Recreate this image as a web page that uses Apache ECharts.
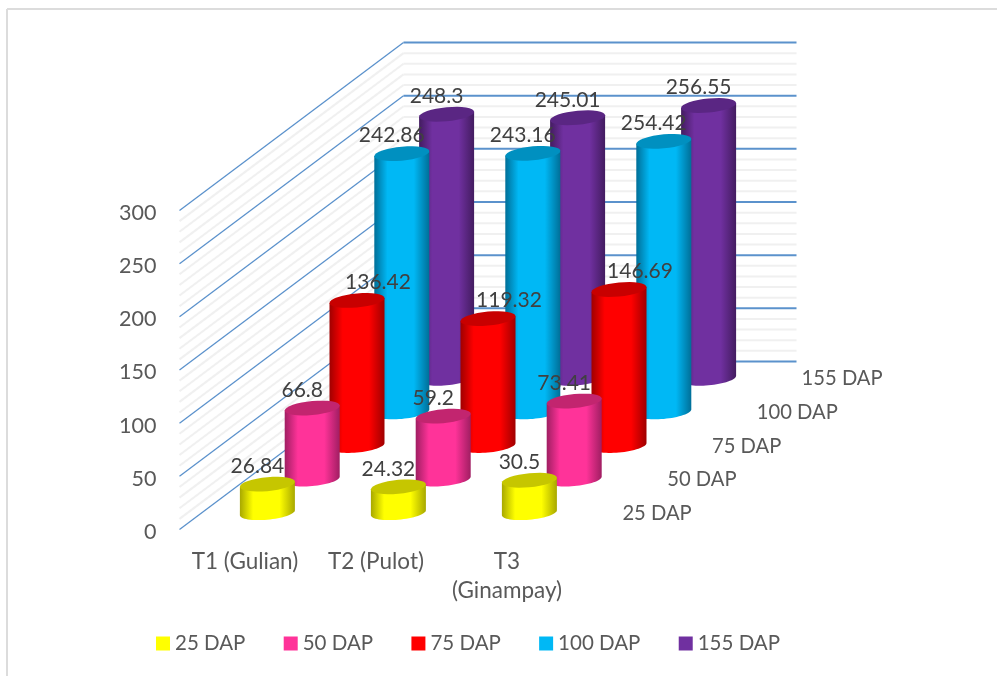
<!DOCTYPE html>
<html>
<head>
<meta charset="utf-8">
<style>html,body{margin:0;padding:0;background:#fff}#chart{width:997px;height:676px}</style>
<script src="https://cdn.jsdelivr.net/npm/echarts@6/dist/echarts.min.js"></script>
</head>
<body>
<div id="chart"></div>
<script>
// Plant height by treatment and sampling date
const categories = ['T1 (Gulian)', 'T2 (Pulot)', 'T3\n(Ginampay)'];
const seriesNames = ['25 DAP', '50 DAP', '75 DAP', '100 DAP', '155 DAP'];
const dap25 = [26.84, 24.32, 30.5];
const dap50 = [66.8, 59.2, 73.41];
const dap75 = [136.42, 119.32, 146.69];
const dap100 = [242.86, 243.16, 254.42];
const dap155 = [248.3, 245.01, 256.55];
const majorTicks = [0, 50, 100, 150, 200, 250, 300];
const minorTicks = [10, 20, 30, 40, 60, 70, 80, 90, 110, 120, 130, 140, 160, 170, 180, 190,
  210, 220, 230, 240, 260, 270, 280, 290];

const seriesValues = [dap25, dap50, dap75, dap100, dap155];
const faceColors = ['#ffff00', '#ff3399', '#ff0000', '#00b8f5', '#7030a0'];
const edgeColors = ['#a8a800', '#a01e62', '#a00000', '#006f98', '#431c60'];
const capColors = ['#c6c600', '#c2256f', '#c80000', '#0090c0', '#5a2683'];
const labelShift = [-10, -10, 21, -10, -10];

// Oblique projection of the depth axis: full depth of the floor in pixels
const depthX = 224, depthY = -168;
const depthSlots = seriesNames.length;
const radiusX = 27.5, radiusY = 7, shear = -0.09;
const fontFamily = 'Lato, "Open Sans", sans-serif';

function slotOffset(i) {
  const f = (i + 0.5) / depthSlots;
  return [depthX * f, depthY * f];
}

function arc(cx, cy, from, to) {
  const pts = [];
  const steps = 32;
  for (let k = 0; k <= steps; k++) {
    const t = from + (to - from) * k / steps;
    const c = Math.cos(t) * radiusX;
    pts.push([cx + c, cy + Math.sin(t) * radiusY + shear * c]);
  }
  return pts;
}

function cylinderRenderer(idx) {
  return function (params, api) {
    const off = slotOffset(idx);
    const base = api.coord([api.value(0), 0]);
    const top = api.coord([api.value(0), api.value(1)]);
    const cx = base[0] + off[0];
    const by = base[1] + off[1];
    const ty = top[1] + off[1];
    const bodyFill = new echarts.graphic.LinearGradient(0, 0, 1, 0, [
      { offset: 0, color: edgeColors[idx] },
      { offset: 0.24, color: faceColors[idx] },
      { offset: 0.72, color: faceColors[idx] },
      { offset: 1, color: edgeColors[idx] }
    ]);
    const body = [[cx - radiusX, ty - shear * radiusX], [cx + radiusX, ty + shear * radiusX]]
      .concat(arc(cx, by, 0, Math.PI));
    return {
      type: 'group',
      children: [
        { type: 'polygon', shape: { points: body }, style: { fill: bodyFill } },
        { type: 'polygon', shape: { points: arc(cx, ty, 0, Math.PI * 2) }, style: { fill: capColors[idx] } }
      ]
    };
  };
}

function wallRenderer(color, width) {
  return function (params, api) {
    const band = api.size([1, 0])[0];
    const p0 = api.coord([0, api.value(1)]);
    const left = p0[0] - band / 2;
    const right = left + band * categories.length;
    const y = p0[1];
    const line = (x1, y1, x2, y2, w) => ({
      type: 'line',
      shape: { x1, y1, x2, y2 },
      style: { stroke: color, lineWidth: w, fill: null }
    });
    return {
      type: 'group',
      children: [
        line(left, y, left + depthX, y + depthY, width[0]),
        line(left + depthX, y + depthY, right + depthX, y + depthY, width[1])
      ]
    };
  };
}

const cylinderSeries = seriesNames.map((name, idx) => ({
  name,
  type: 'custom',
  coordinateSystem: 'cartesian2d',
  z: 10 - idx,
  itemStyle: { color: faceColors[idx] },
  renderItem: cylinderRenderer(idx),
  data: seriesValues[idx].map((v, c) => [c, v])
}));

// Value labels sit above everything else
const valueLabels = {
  type: 'custom',
  coordinateSystem: 'cartesian2d',
  z: 20,
  renderItem(params, api) {
    const idx = api.value(2);
    const off = slotOffset(idx);
    const top = api.coord([api.value(0), api.value(1)]);
    return {
      type: 'text',
      style: {
        text: String(api.value(1)),
        x: top[0] + off[0] + labelShift[idx],
        y: top[1] + off[1] - 18,
        align: 'center',
        verticalAlign: 'middle',
        fill: '#404040',
        font: '21px ' + fontFamily
      }
    };
  },
  data: seriesValues.flatMap((vals, s) => vals.map((v, c) => [c, v, s]))
};

// Depth axis captions along the right edge of the floor
const depthLabels = {
  type: 'custom',
  coordinateSystem: 'cartesian2d',
  z: 19,
  renderItem(params, api) {
    const idx = api.value(1);
    const off = slotOffset(idx);
    const band = api.size([1, 0])[0];
    const p = api.coord([categories.length - 1, 0]);
    return {
      type: 'text',
      style: {
        text: seriesNames[idx],
        x: p[0] + band / 2 + off[0] + 27.5,
        y: p[1] + off[1] + 0.5,
        align: 'left',
        verticalAlign: 'middle',
        fill: '#595959',
        font: '20.2px ' + fontFamily
      }
    };
  },
  data: seriesNames.map((n, i) => [0, i])
};

const chart = echarts.init(document.getElementById('chart'), null, { renderer: 'canvas' });
chart.setOption({
  animation: false,
  backgroundColor: '#ffffff',
  grid: { left: 179.5, right: 424.5, top: 210.5, bottom: 146.5, containLabel: false },
  xAxis: {
    type: 'category',
    data: categories,
    axisLine: { show: false },
    axisTick: { show: false },
    axisLabel: { color: '#595959', fontSize: 22.5, fontFamily, margin: 18, lineHeight: 29, interval: 0 }
  },
  yAxis: {
    type: 'value',
    min: 0,
    max: 300,
    interval: 50,
    axisLine: { show: false },
    axisTick: { show: false },
    splitLine: { show: false },
    axisLabel: {
      margin: 23,
      formatter: '{tick|{value}}',
      rich: { tick: { color: '#595959', fontSize: 21.5, fontFamily, padding: [5, 0, 0, 0] } }
    }
  },
  legend: {
    data: seriesNames,
    left: 156,
    top: 633,
    padding: 0,
    icon: 'rect',
    itemWidth: 14,
    itemHeight: 14,
    itemGap: 38.3,
    textStyle: { color: '#595959', fontSize: 20.5, fontFamily },
    selectedMode: false
  },
  graphic: [
    { type: 'line', shape: { x1: 7, y1: 9, x2: 997, y2: 9 }, style: { stroke: '#dcdcdc', lineWidth: 2 }, silent: true },
    { type: 'line', shape: { x1: 7, y1: 9, x2: 7, y2: 676 }, style: { stroke: '#dcdcdc', lineWidth: 2 }, silent: true }
  ],
  series: [
    {
      type: 'custom', coordinateSystem: 'cartesian2d', z: 1,
      renderItem: wallRenderer('#f0f0f0', [2, 2]),
      data: minorTicks.map(t => [0, t])
    },
    {
      type: 'custom', coordinateSystem: 'cartesian2d', z: 2,
      renderItem: wallRenderer('#5b92cc', [1.3, 2]),
      data: majorTicks.map(t => [0, t])
    },
    ...cylinderSeries,
    depthLabels,
    valueLabels
  ]
});
</script>
</body>
</html>
